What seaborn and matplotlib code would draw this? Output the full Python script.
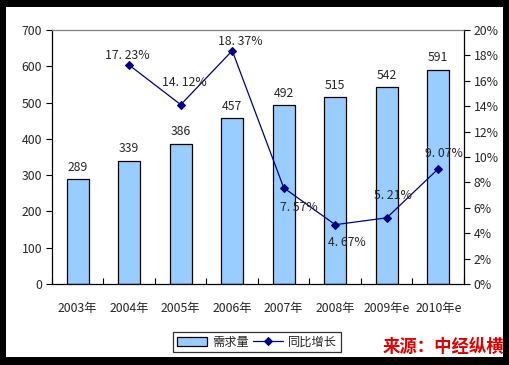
import numpy as np
import pandas as pd
import matplotlib
matplotlib.use('Agg')
import matplotlib.pyplot as plt
from matplotlib.patches import Rectangle
from matplotlib.ticker import FuncFormatter, FixedLocator
import seaborn as sns

# 数据
years = ['2003年', '2004年', '2005年', '2006年', '2007年', '2008年', '2009年e', '2010年e']
demand = [289, 339, 386, 457, 492, 515, 542, 591]
growth_years = ['2004年', '2005年', '2006年', '2007年', '2008年', '2009年e', '2010年e']
growth = [17.23, 14.12, 18.37, 7.57, 4.67, 5.21, 9.07]
# 百分比标签偏移（像素）
growth_offsets = [(-2, 10), (4, 22), (8, 9), (15, -20), (12, -18), (6, 22), (6, 15)]

sns.set_theme(style='white')
plt.rcParams['font.family'] = ['Noto Sans CJK SC', 'DejaVu Sans']
plt.rcParams['axes.unicode_minus'] = False

fig = plt.figure(figsize=(5.1, 3.65), dpi=100)
fig.patch.set_facecolor('black')
fig.add_artist(Rectangle((6 / 510, 8 / 365), 497 / 510, 350 / 365,
                         transform=fig.transFigure, facecolor='white',
                         edgecolor='none', zorder=0))

ax = fig.add_axes([52 / 510, 81 / 365, 412 / 510, 254 / 365])
ax.set_facecolor('white')

df_bar = pd.DataFrame({'year': years, 'demand': demand})
sns.barplot(data=df_bar, x='year', y='demand', order=years, color='#99CCFF',
            saturation=1, width=0.43, edgecolor='black', linewidth=0.9, ax=ax,
            label='需求量')

for i, v in enumerate(demand):
    ax.annotate(str(v), (i, v), xytext=(0, 4), textcoords='offset points',
                ha='center', va='bottom', fontsize=8.8)

ax.set_ylim(0, 700)
ax.set_xlim(-0.5, len(years) - 0.5)
ax.set_yticks(np.arange(0, 701, 100))
ax.set_xlabel('')
ax.set_ylabel('')
ax.tick_params(axis='y', which='major', direction='out', length=4, width=0.8,
               color='black', labelsize=8.8, left=True, pad=3)
ax.tick_params(axis='x', which='major', length=0, labelsize=8.8, pad=13)
ax.xaxis.set_minor_locator(FixedLocator(np.arange(-0.5, len(years), 1)))
ax.tick_params(axis='x', which='minor', direction='in', length=4, width=0.8,
               color='black', bottom=True)
for s in ['left', 'bottom', 'right']:
    ax.spines[s].set_color('black')
    ax.spines[s].set_linewidth(0.9)
ax.spines['top'].set_color('#808080')
ax.spines['top'].set_linewidth(0.9)

# 同比增长（右轴）
ax2 = ax.twinx()
gx = [years.index(y) for y in growth_years]
df_line = pd.DataFrame({'x': gx, 'growth': growth})
sns.lineplot(data=df_line, x='x', y='growth', color='#000080', linewidth=0.9,
             marker='D', markersize=4, markeredgecolor='#000080', ax=ax2,
             label='同比增长')
for x, v, (dx, dy) in zip(gx, growth, growth_offsets):
    ax2.annotate(f'{v:.2f}%'.replace('.', '. '), (x, v), xytext=(dx, dy),
                 textcoords='offset pixels', ha='center', va='center',
                 fontsize=8.8)
ax2.set_ylim(0, 20)
ax2.set_yticks(np.arange(0, 21, 2))
ax2.yaxis.set_major_formatter(FuncFormatter(lambda v, p: f'{v:.0f}%'))
ax2.set_ylabel('')
ax2.set_xlabel('')
ax2.tick_params(axis='y', direction='out', length=4, width=0.8, color='black',
                labelsize=8.8, right=True, pad=3)
for s in ax2.spines.values():
    s.set_visible(False)

# 图例
h1, l1 = ax.get_legend_handles_labels()
h2, l2 = ax2.get_legend_handles_labels()
if ax2.get_legend():
    ax2.get_legend().remove()
if ax.get_legend():
    ax.get_legend().remove()
leg = fig.legend(h1 + h2, l1 + l2, loc='center', bbox_to_anchor=(257 / 510, 23 / 365),
                 ncol=2, fontsize=8.8, frameon=True, fancybox=False,
                 edgecolor='black', handlelength=2.5, handletextpad=0.4,
                 columnspacing=0.3, borderpad=0.3)
leg.get_frame().set_linewidth(0.9)

fig.text(504 / 510, 18 / 365, '来源：中经纵横', color='#E00000', fontsize=12.5,
         fontweight='bold', style='italic', ha='right', va='center')

fig.savefig('out.png', dpi=100, facecolor=fig.get_facecolor())
